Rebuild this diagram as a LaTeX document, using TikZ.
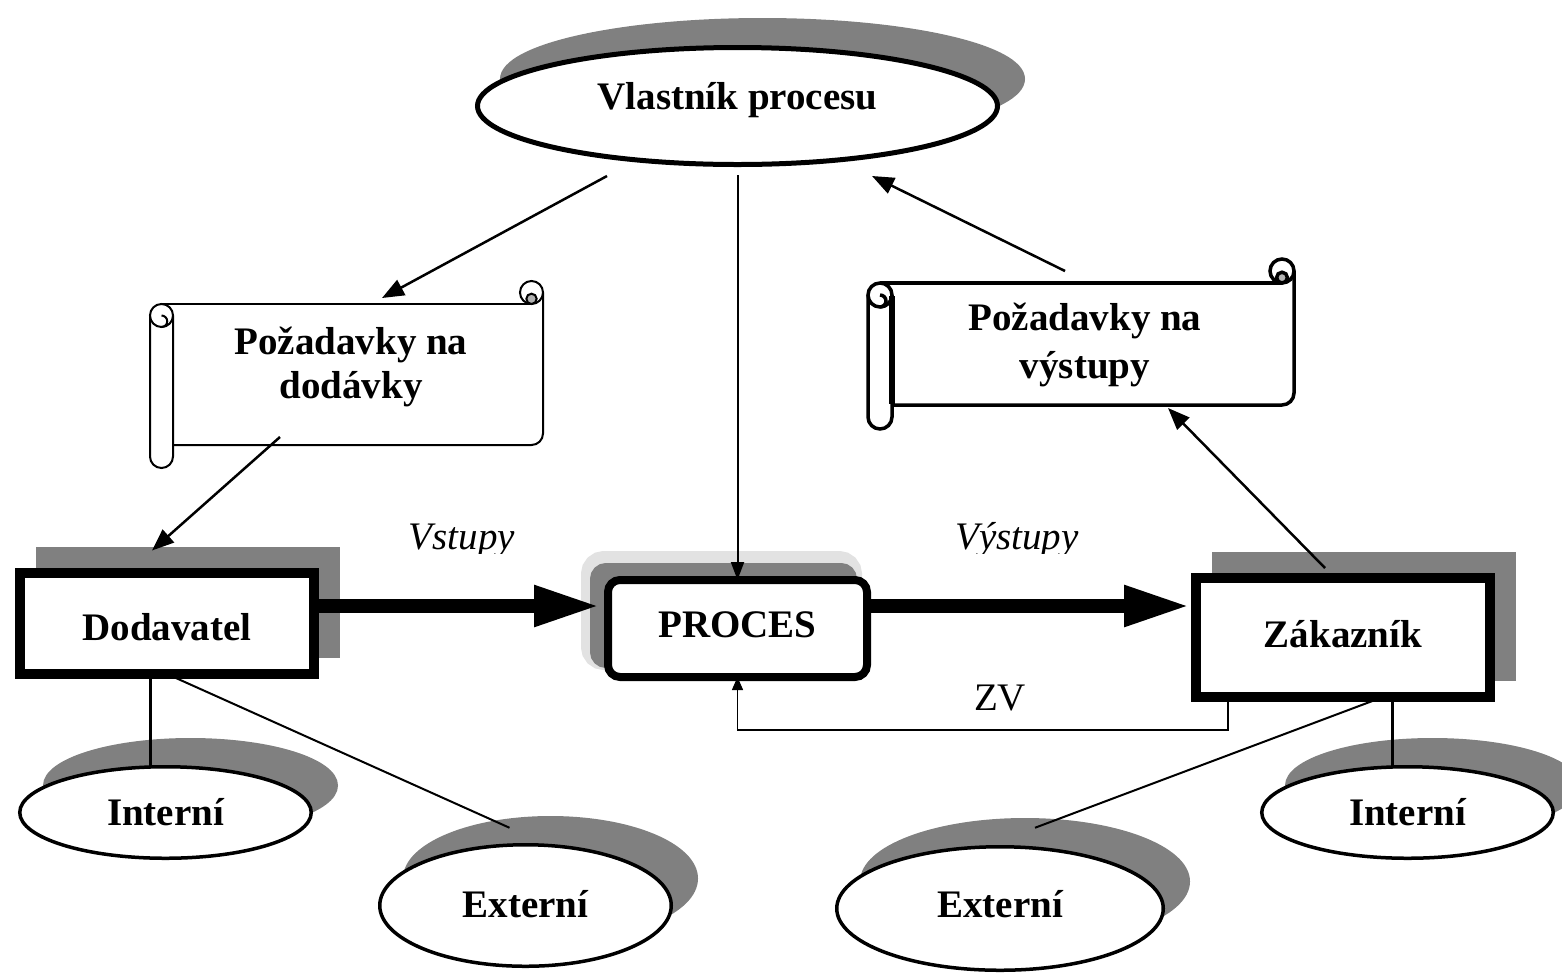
\documentclass[tikz,border=0pt]{standalone}
\usepackage{fontspec}
\setmainfont{Liberation Serif}
\usetikzlibrary{arrows.meta,shapes.geometric,shadows,calc}

\definecolor{shade}{HTML}{808080}
\definecolor{halo}{HTML}{E2E2E2}

% horizontal scroll: #1 left x, #2 right x, #3 top y, #4 bottom y, #5 roll radius
\newcommand{\hscroll}[5]{%
  \fill[white] ({#1+#5},#3) rectangle (#2,#4);
  \draw ({#1+#5},#3) -- ({#2-#5},#3);
  \draw (#2,{#3-#5}) -- (#2,{#4-#5}) arc[start angle=0,end angle=90,radius=#5] -- ({#1+2*#5},#4);
  \draw[fill=white] ({#2-#5},{#3-#5}) circle[radius=#5];
  \draw[fill=gray!60] ({#2-#5},{#3-0.45*#5}) circle[radius={0.45*#5}];
  \draw[fill=white] (#1,{#3+#5}) -- (#1,{#4+#5}) arc[start angle=180,end angle=0,radius=#5] -- ({#1+2*#5},{#3+#5});
  \draw[fill=white] ({#1+#5},{#3+#5}) circle[radius=#5];
  \draw ({#1+#5},{#3+#5}) arc[start angle=-90,end angle=90,radius={0.5*#5}];
}

\begin{document}
\begin{tikzpicture}[x=1pt,y=-1pt,
  lbl/.style={font=\fontsize{39}{44}\selectfont\bfseries},
  oval/.style={ellipse, draw, fill=white, line width=3.5pt, inner sep=0pt, outer sep=0pt, lbl,
    drop shadow={shadow xshift=25pt, shadow yshift=27pt, fill=shade, draw=shade, opacity=1}},
  box/.style={rectangle, draw, fill=white, line width=10pt, inner sep=0pt, outer sep=0pt, lbl,
    drop shadow={shadow xshift=21pt, shadow yshift=21pt, fill=shade, draw=shade, opacity=1}},
  proc/.style={rectangle, rounded corners=12pt, draw, fill=white, line width=8pt, inner sep=0pt, outer sep=0pt, lbl,
    minimum width=259pt, minimum height=97pt,
    drop shadow={shadow xshift=-16pt, shadow yshift=18pt, fill=halo, draw=halo, line width=22pt, opacity=1},
    drop shadow={shadow xshift=-14pt, shadow yshift=13pt, fill=shade, draw=shade, opacity=1}},
  area/.style={rectangle, inner sep=0pt, outer sep=0pt},
  arr/.style={line width=2.5pt, -{Triangle[length=22pt,width=17pt]}},
  arrv/.style={line width=2pt, -{Triangle[length=18pt,width=13pt]}},
  fb/.style={line width=1.5pt, -{Triangle[length=13pt,width=11pt]}},
  flow/.style={line width=14pt, -{Triangle[length=66pt,width=38pt]}},
  stem/.style={line width=3pt},
  link/.style={line width=2pt},
  flowlbl/.style={font=\fontsize{39}{44}\selectfont\itshape},
]
\useasboundingbox (0,0) rectangle (1562,978);

% scrolls
\begin{scope}[line width=2pt]
  \hscroll{150}{543}{304}{445}{11.5}
\end{scope}
\begin{scope}[line width=3.5pt]
  \hscroll{868}{1294}{283}{405}{12}
  \draw[line width=6pt] (892,296) -- (892,404);
\end{scope}
\node[area, minimum width=370pt, minimum height=141pt] (pd) at (358,374.5) {};
\node[lbl, align=center] (pdt) at (351,367) {Požadavky na\\dodávky};
\node[area, minimum width=402pt, minimum height=122pt] (pv) at (1093,344) {};
\node[lbl, align=center] (pvt) at (1085,345) {Požadavky na\\[4pt]výstupy};

% main nodes
\node[oval, minimum width=520pt, minimum height=117pt, line width=5pt,
      text height=14.5pt, text depth=8.5pt] (vl) at (737.5,106) {Vlastník procesu};
\node[box, minimum width=294pt, minimum height=101pt, text height=34pt, text depth=0pt] (dod) at (167,623.5) {Dodavatel};
\node[box, minimum width=294pt, minimum height=119pt, text height=27pt, text depth=8pt] (zk) at (1343,637.5) {Zákazník};
\node[proc, text height=26pt, text depth=8pt] (pr) at (737.5,628.5) {PROCES};

\node[oval, minimum width=291.5pt, minimum height=91.5pt] (li) at (165.5,812.5) {Interní};
\node[oval, minimum width=291.5pt, minimum height=121.5pt, text height=27pt, text depth=4pt] (le) at (525.5,905.5) {Externí};
\node[oval, minimum width=326.5pt, minimum height=123.5pt, text height=27pt, text depth=10pt] (re) at (1000,908.5) {Externí};
\node[oval, minimum width=291.5pt, minimum height=91.5pt] (ri) at (1407.5,812.5) {Interní};

% requirement arrows
\draw[arr] ($(vl.south)+(-130.5,11.5)$) -- ($(pd.north)+(24,-6)$);
\draw[arrv] ($(vl.south)+(0,10.5)$) -- (pr.north);
\draw[arr] ($(pv.north)+(-28,-12)$) -- ($(vl.south)+(134.5,11.5)$);
\draw[arr] ($(pd.south)+(-78,-8)$) -- ($(dod.north)+(-15,-22.5)$);
\draw[arr] ($(zk.north)+(-18,-10)$) -- ($(pv.south)+(75,3)$);

% main flow
\coordinate (fl) at (0,606);
\draw[flow, shorten >=8pt] (dod.east |- fl) -- (pr.west |- fl);
\draw[flow, shorten >=6pt] (pr.east |- fl) -- (zk.west |- fl);

% feedback
\draw[fb] ($(zk.south)+(-115,0)$) -- ++(0,33) -| (pr.south);
\node[anchor=base, font=\fontsize{39}{44}\selectfont] (zv) at (1000,710) {ZV};

% flow labels
\begin{scope}
  \clip (380,500) rectangle (1120,553);
  \node[flowlbl, anchor=base] (vin) at (462,549) {Vstupy};
  \node[flowlbl, anchor=base] (vout) at (1017,549) {Výstupy};
\end{scope}

% internal / external partners
\coordinate (lit) at ($(li.north)+(-15.5,0)$);
\draw[stem] (lit |- dod.south) -- (lit);
\draw[link] (dod.south) -- ($(le.north)+(-16,-17)$);
\coordinate (rit) at ($(ri.north)+(-15.5,0)$);
\draw[stem] (rit |- zk.south) -- (rit);
\draw[link] ($(zk.south)+(32,3)$) -- ($(re.north)+(35,-19)$);
\end{tikzpicture}
\end{document}
